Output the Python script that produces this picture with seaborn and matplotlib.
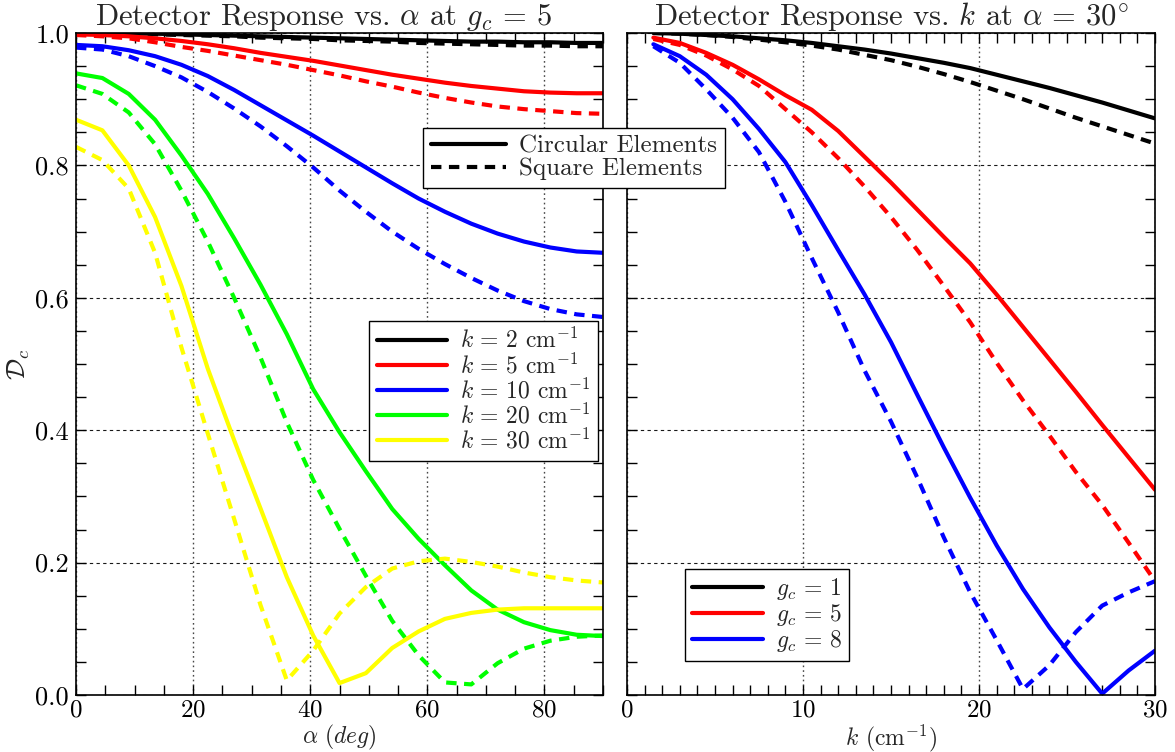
import numpy as np
import pandas as pd
import matplotlib
matplotlib.use("Agg")
import matplotlib.pyplot as plt
from matplotlib.lines import Line2D
from matplotlib.ticker import MultipleLocator
import seaborn as sns

# ---- angle sweep at g_c = 5 ----
alpha = [0, 4.5, 9, 13.5, 18, 22.5, 27, 31.5, 36, 40.5, 45,
         49.5, 54, 58.5, 63, 67.5, 72, 76.5, 81, 85.5, 90]

circ_k2 = [1.000, 1.000, 0.999, 0.999, 0.998, 0.997, 0.996, 0.995, 0.994, 0.993, 0.992,
           0.991, 0.990, 0.989, 0.988, 0.987, 0.987, 0.986, 0.986, 0.985, 0.985]
sq_k2 = [1.000, 0.999, 0.999, 0.998, 0.997, 0.996, 0.995, 0.993, 0.992, 0.991, 0.989,
         0.988, 0.987, 0.985, 0.984, 0.983, 0.982, 0.981, 0.981, 0.980, 0.980]
circ_k5 = [0.998, 0.997, 0.995, 0.992, 0.988, 0.983, 0.977, 0.970, 0.964, 0.958, 0.951,
           0.944, 0.937, 0.931, 0.925, 0.920, 0.916, 0.912, 0.910, 0.909, 0.909]
sq_k5 = [0.997, 0.995, 0.992, 0.986, 0.979, 0.973, 0.966, 0.959, 0.952, 0.944, 0.936,
         0.927, 0.919, 0.910, 0.902, 0.895, 0.889, 0.885, 0.882, 0.879, 0.878]
circ_k10 = [0.982, 0.980, 0.974, 0.965, 0.952, 0.935, 0.914, 0.891, 0.868, 0.845, 0.821,
            0.797, 0.773, 0.750, 0.730, 0.712, 0.697, 0.685, 0.676, 0.670, 0.668]
sq_k10 = [0.978, 0.975, 0.965, 0.950, 0.933, 0.911, 0.886, 0.859, 0.829, 0.797, 0.762,
          0.730, 0.700, 0.674, 0.651, 0.630, 0.611, 0.595, 0.583, 0.575, 0.571]
circ_k20 = [0.939, 0.932, 0.908, 0.869, 0.815, 0.757, 0.690, 0.620, 0.545, 0.462, 0.397,
            0.338, 0.281, 0.236, 0.196, 0.158, 0.129, 0.110, 0.098, 0.091, 0.089]
sq_k20 = [0.921, 0.908, 0.880, 0.832, 0.762, 0.685, 0.600, 0.510, 0.412, 0.325, 0.251,
          0.180, 0.112, 0.060, 0.019, 0.016, 0.048, 0.070, 0.082, 0.088, 0.090]
circ_k30 = [0.869, 0.853, 0.800, 0.722, 0.618, 0.493, 0.385, 0.282, 0.178, 0.090, 0.018,
            0.033, 0.071, 0.096, 0.115, 0.124, 0.129, 0.131, 0.131, 0.131, 0.131]
sq_k30 = [0.828, 0.808, 0.765, 0.668, 0.525, 0.395, 0.266, 0.136, 0.022, 0.067, 0.123,
          0.163, 0.191, 0.202, 0.206, 0.201, 0.194, 0.185, 0.178, 0.173, 0.170]

k_labels = [r"$k\, =\, 2$ cm$^{-1}$", r"$k\, =\, 5$ cm$^{-1}$", r"$k\, =\, 10$ cm$^{-1}$",
            r"$k\, =\, 20$ cm$^{-1}$", r"$k\, =\, 30$ cm$^{-1}$"]
k_colors = ["#000000", "#ff0000", "#0000ff", "#00ff00", "#ffff00"]

# ---- wavenumber sweep at alpha = 30 deg ----
k = [1.5, 3, 4.5, 6, 7.5, 9, 10.5, 12, 13.5, 15,
     16.5, 18, 19.5, 21, 22.5, 24, 25.5, 27, 28.5, 30]

circ_g1 = [1.000, 0.999, 0.997, 0.995, 0.992, 0.989, 0.985, 0.980, 0.975, 0.969,
           0.962, 0.955, 0.947, 0.937, 0.927, 0.917, 0.906, 0.895, 0.883, 0.871]
sq_g1 = [1.000, 0.999, 0.997, 0.994, 0.990, 0.986, 0.981, 0.975, 0.967, 0.959,
         0.949, 0.938, 0.926, 0.913, 0.900, 0.886, 0.872, 0.859, 0.846, 0.833]
circ_g5 = [0.993, 0.985, 0.970, 0.952, 0.930, 0.906, 0.884, 0.852, 0.813, 0.774,
           0.733, 0.692, 0.652, 0.605, 0.556, 0.507, 0.458, 0.408, 0.359, 0.310]
sq_g5 = [0.991, 0.982, 0.966, 0.945, 0.920, 0.885, 0.850, 0.811, 0.768, 0.722,
         0.672, 0.618, 0.563, 0.502, 0.445, 0.392, 0.337, 0.287, 0.230, 0.172]
circ_g8 = [0.983, 0.965, 0.937, 0.900, 0.855, 0.805, 0.740, 0.672, 0.605, 0.533,
           0.453, 0.374, 0.298, 0.226, 0.160, 0.102, 0.050, 0.002, 0.037, 0.067]
sq_g8 = [0.980, 0.955, 0.915, 0.872, 0.820, 0.745, 0.660, 0.578, 0.490, 0.413,
         0.328, 0.238, 0.155, 0.083, 0.009, 0.045, 0.095, 0.135, 0.155, 0.172]

g_labels = [r"$g_c\, =\, 1$", r"$g_c\, =\, 5$", r"$g_c\, =\, 8$"]
g_colors = ["#000000", "#ff0000", "#0000ff"]

shapes = ["Circular Elements", "Square Elements"]

# long-form tables
rows = []
for lab, c_vals, s_vals in zip(k_labels,
                               [circ_k2, circ_k5, circ_k10, circ_k20, circ_k30],
                               [sq_k2, sq_k5, sq_k10, sq_k20, sq_k30]):
    for a, v in zip(alpha, c_vals):
        rows.append((a, v, lab, shapes[0]))
    for a, v in zip(alpha, s_vals):
        rows.append((a, v, lab, shapes[1]))
df_alpha = pd.DataFrame(rows, columns=["alpha", "D", "k", "shape"])

rows = []
for lab, c_vals, s_vals in zip(g_labels, [circ_g1, circ_g5, circ_g8],
                               [sq_g1, sq_g5, sq_g8]):
    for kk, v in zip(k, c_vals):
        rows.append((kk, v, lab, shapes[0]))
    for kk, v in zip(k, s_vals):
        rows.append((kk, v, lab, shapes[1]))
df_k = pd.DataFrame(rows, columns=["k", "D", "g", "shape"])

sns.set_theme(style="ticks")
plt.rcParams.update({
    "font.family": ["cmr10", "DejaVu Serif"],
    "mathtext.fontset": "cm",
    "axes.formatter.use_mathtext": True,
    "axes.unicode_minus": False,
    "font.size": 19,
    "axes.edgecolor": "black",
    "axes.linewidth": 1.2,
    "xtick.color": "black",
    "ytick.color": "black",
})

LW = 3.0
DASH = (2.5, 1.8)
dash_map = {shapes[0]: "", shapes[1]: DASH}

fig = plt.figure(figsize=(11.75, 7.52), dpi=100)
ax1 = fig.add_axes([0.0647, 0.0758, 0.4485, 0.8803])
ax2 = fig.add_axes([0.5336, 0.0758, 0.4494, 0.8803])

sns.lineplot(data=df_alpha, x="alpha", y="D", hue="k", style="shape",
             hue_order=k_labels, palette=k_colors, dashes=dash_map,
             estimator=None, sort=False, lw=LW, legend=False, ax=ax1)
sns.lineplot(data=df_k, x="k", y="D", hue="g", style="shape",
             hue_order=g_labels, palette=g_colors, dashes=dash_map,
             estimator=None, sort=False, lw=LW, legend=False, ax=ax2)

for ax in (ax1, ax2):
    ax.set_ylim(0, 1.0)
    ax.yaxis.set_major_locator(MultipleLocator(0.2))
    ax.yaxis.set_minor_locator(MultipleLocator(0.05))
    ax.tick_params(which="both", direction="in", top=True, right=True,
                   length=7, width=1.0, labelsize=19, pad=5)
    ax.tick_params(axis="x", pad=3, labelsize=18)
    ax.yaxis.grid(True, which="major", color="black",
                  linestyle=(0, (3, 3)), linewidth=0.8, alpha=0.9)
    ax.xaxis.grid(True, which="major", color="#333333",
                  linestyle=(0, (1.2, 2.2)), linewidth=1.0, alpha=0.9)
    ax.set_axisbelow(True)
    for sp in ax.spines.values():
        sp.set_visible(True)
        sp.set_linewidth(1.2)

ax1.set_xlim(0, 90)
ax1.xaxis.set_major_locator(MultipleLocator(20))
ax1.xaxis.set_minor_locator(MultipleLocator(5))
ax1.set_yticks([0.0, 0.2, 0.4, 0.6, 0.8, 1.0])
ax1.set_yticklabels(["0.0", "0.2", "0.4", "0.6", "0.8", "1.0"])
ax1.set_xlabel(r"$\alpha\ (deg)$", fontsize=17, labelpad=1)
ax1.set_ylabel(r"$\mathcal{D}_c$", fontsize=19)
ax1.yaxis.set_label_coords(-0.083, 0.5)
ax1.set_title(r"Detector Response vs. $\alpha$ at $g_c\, =\, 5$",
              fontsize=22, pad=4, x=0.47)

ax2.set_xlim(0, 30)
ax2.xaxis.set_major_locator(MultipleLocator(10))
ax2.xaxis.set_minor_locator(MultipleLocator(1))
ax2.tick_params(axis="y", labelleft=False)
ax2.set_xlabel(r"$k$ (cm$^{-1}$)", fontsize=17, labelpad=1)
ax2.set_ylabel("")
ax2.set_title(r"Detector Response vs. $k$ at $\alpha\, =\, 30^{\circ}$",
              fontsize=22, pad=4)

leg_kw = dict(frameon=True, fancybox=False, framealpha=1, edgecolor="black",
              handlelength=3.0, handletextpad=0.55, labelspacing=0.0,
              borderpad=0.3, borderaxespad=0.0, fontsize=17)

k_handles = [Line2D([], [], color=c, lw=LW) for c in k_colors]
leg_k = ax1.legend(k_handles, k_labels, loc="upper right",
                   bbox_to_anchor=(0.99, 0.565), **leg_kw)
leg_k.get_frame().set_linewidth(1.0)

g_handles = [Line2D([], [], color=c, lw=LW) for c in g_colors]
leg_g = ax2.legend(g_handles, g_labels, loc="lower left",
                   bbox_to_anchor=(0.11, 0.051), **leg_kw)
leg_g.get_frame().set_linewidth(1.0)

shape_handles = [Line2D([], [], color="black", lw=LW),
                 Line2D([], [], color="black", lw=LW, dashes=DASH)]
leg_s = fig.legend(shape_handles, shapes, loc="upper left",
                   bbox_to_anchor=(0.36, 0.83), **dict(leg_kw, fontsize=18))
leg_s.get_frame().set_linewidth(1.0)

fig.savefig("out.png", dpi=100)
